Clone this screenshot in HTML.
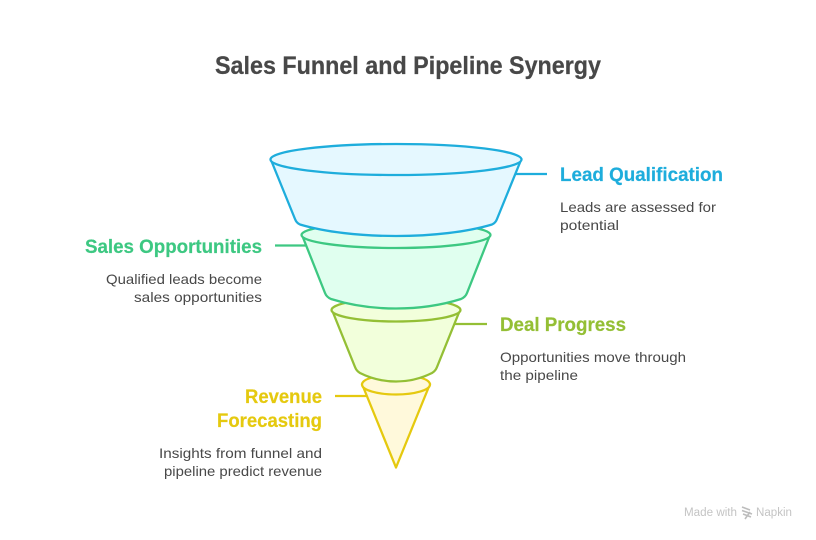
<!DOCTYPE html>
<html>
<head>
<meta charset="utf-8">
<style>
html,body{margin:0;padding:0;background:#fff;width:816px;height:540px;overflow:hidden}
svg{display:block}
text{font-family:"Liberation Sans",sans-serif}
.t{font-size:25px;font-weight:700;fill:#484848;stroke:#484848;stroke-width:.25}
.h{font-size:19px;font-weight:700;stroke-width:.2}
.b{font-size:14px;fill:#484848}
</style>
</head>
<body>
<svg width="816" height="540" viewBox="0 0 816 540" xmlns="http://www.w3.org/2000/svg">
<rect width="816" height="540" fill="#fff"/>
<text class="t" x="215" y="74" textLength="386" lengthAdjust="spacingAndGlyphs">Sales Funnel and Pipeline Synergy</text>

<g fill="none" stroke-width="2.300">
<line x1="335" y1="396" x2="366" y2="396" stroke="#E5C90F"/>
<line x1="455" y1="324" x2="487" y2="324" stroke="#94BF35"/>
<line x1="275" y1="245.500" x2="306" y2="245.500" stroke="#3DC882"/>
<line x1="515" y1="174" x2="547" y2="174" stroke="#1EADDC"/>
</g>

<g stroke-width="2.300" stroke-linejoin="round">
<!-- yellow -->
<g fill="#FFF9DB" stroke="#E5C90F">
<path d="M362 384 L396 467.500 L430 384 Z"/>
<ellipse cx="396" cy="384.500" rx="34" ry="10"/>
</g>
<!-- olive -->
<g fill="#F2FFDB" stroke="#94BF35">
<path d="M332 310 L355 367 Q356.500 371 360 373 C371 378.500 383 381.500 396 381.500 C409 381.500 421 378.500 432 373 Q435.500 371 437 367 L460 310 Z"/>
<ellipse cx="396" cy="310" rx="64.500" ry="11.500"/>
</g>
<!-- green -->
<g fill="#E0FFEF" stroke="#3DC882">
<path d="M302 235 L325 293 Q326.500 297 331 299 C350 305 372 308.500 396 308.500 C420 308.500 442 305 461 299 Q465.500 297 467 293 L490 235 Z"/>
<ellipse cx="396" cy="235" rx="94.500" ry="13"/>
</g>
<!-- blue -->
<g fill="#E5F8FF" stroke="#1EADDC">
<path d="M271 160 L295 219 Q296.500 223 300 224.500 C325 232 360 236 396 236 C432 236 467 232 492 224.500 Q495.500 223 497 219 L521 160 Z"/>
<ellipse cx="396" cy="159.500" rx="125.500" ry="15.500"/>
</g>
</g>

<text class="h" x="560" y="181" fill="#1EADDC" stroke="#1EADDC" textLength="163" lengthAdjust="spacingAndGlyphs">Lead Qualification</text>
<text class="b" x="560" y="212" textLength="156" lengthAdjust="spacingAndGlyphs">Leads are assessed for</text>
<text class="b" x="560" y="230" textLength="59" lengthAdjust="spacingAndGlyphs">potential</text>

<text class="h" x="85" y="253" fill="#3DC882" stroke="#3DC882" textLength="177" lengthAdjust="spacingAndGlyphs">Sales Opportunities</text>
<text class="b" x="106" y="284" textLength="156" lengthAdjust="spacingAndGlyphs">Qualified leads become</text>
<text class="b" x="134" y="302" textLength="128" lengthAdjust="spacingAndGlyphs">sales opportunities</text>

<text class="h" x="500" y="331" fill="#94BF35" stroke="#94BF35" textLength="126" lengthAdjust="spacingAndGlyphs">Deal Progress</text>
<text class="b" x="500" y="362" textLength="186" lengthAdjust="spacingAndGlyphs">Opportunities move through</text>
<text class="b" x="500" y="380" textLength="78" lengthAdjust="spacingAndGlyphs">the pipeline</text>

<text class="h" x="245" y="403" fill="#E5C90F" stroke="#E5C90F" textLength="77" lengthAdjust="spacingAndGlyphs">Revenue</text>
<text class="h" x="217" y="427" fill="#E5C90F" stroke="#E5C90F" textLength="105" lengthAdjust="spacingAndGlyphs">Forecasting</text>
<text class="b" x="159" y="458" textLength="163" lengthAdjust="spacingAndGlyphs">Insights from funnel and</text>
<text class="b" x="164" y="476" textLength="158" lengthAdjust="spacingAndGlyphs">pipeline predict revenue</text>

<text x="684" y="516" font-size="11.500" fill="#C4C4C4" textLength="53" lengthAdjust="spacingAndGlyphs">Made with</text>
<g stroke="#BDBDBD" stroke-width="1.600" fill="none">
<path d="M742 507 L750 510 M742 510.500 L752 514 M743 514 L751 517 M745 519 L750 512"/>
</g>
<text x="756" y="516" font-size="11.500" fill="#C4C4C4" textLength="36" lengthAdjust="spacingAndGlyphs">Napkin</text>
</svg>
</body>
</html>
